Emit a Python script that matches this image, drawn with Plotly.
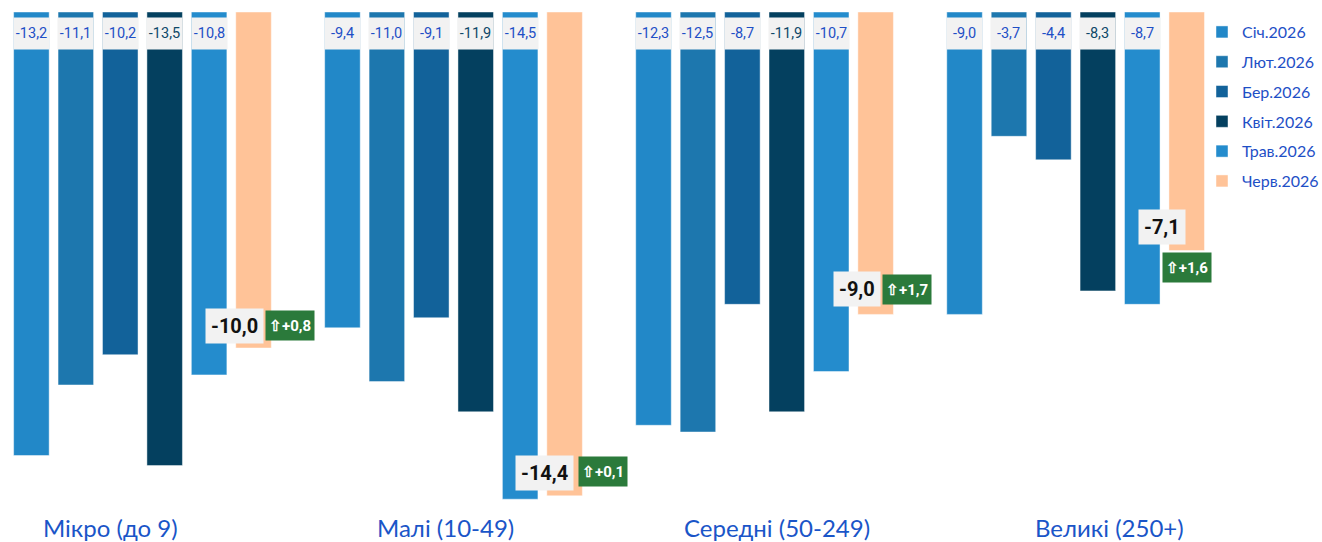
import plotly.graph_objects as go

categories = ["Мікро (до 9)", "Малі (10-49)", "Середні (50-249)", "Великі (250+)"]
series_names = ["Січ.2026", "Лют.2026", "Бер.2026", "Квіт.2026", "Трав.2026", "Черв.2026"]
sich = [-13.2, -9.4, -12.3, -9.0]
lyut = [-11.1, -11.0, -12.5, -3.7]
ber = [-10.2, -9.1, -8.7, -4.4]
kvit = [-13.5, -11.9, -11.9, -8.3]
trav = [-10.8, -14.5, -10.7, -8.7]
cherv = [-10.0, -14.4, -9.0, -7.1]
series_values = [sich, lyut, ber, kvit, trav, cherv]

colors = ["#2288C8", "#1D77AE", "#12629A", "#04405F", "#248CCD", "#FFC398"]
label_colors = ["#1E4FC6", "#1E4FC6", "#1E4FC6", "#0E4868", "#1E4FC6", "#000000"]

# style: per-group shifts (px) of the last-month value box and change box
val_dx = [-19, -20, -19, -25]
val_dy = [22, 23, 25, 24]
chg_dx = [36, 38, 31, 0]
chg_dy = [23, 24, 25, -17]
label_pos = [0.0917, 0.368, 0.642, 0.917]

NARROW = "Roboto, Liberation Sans Narrow, sans-serif"
HUMAN = "Lato, Open Sans, sans-serif"

BARGAP = 0.143
GROUPGAP = 0.2
n = len(series_names)

fig = go.Figure()
for j, (name, vals) in enumerate(zip(series_names, series_values)):
    fig.add_trace(go.Bar(
        x=list(range(len(categories))), y=vals, name=name,
        marker=dict(color=colors[j], line=dict(color="rgba(255,255,255,0.45)", width=1)),
        legendgroup=name, hoverinfo="y",
    ))

def fmt(v, sign=False):
    s = f"{v:+.1f}" if sign else f"{v:.1f}"
    return s.replace(".", ",")

slot = (1 - BARGAP) / n
annotations = []
for j in range(n):
    off = -(1 - BARGAP) / 2 + slot * (j + 0.5)
    for i, v in enumerate(series_values[j]):
        x = i + off
        if j < n - 1:
            annotations.append(dict(
                x=x, y=0, xref="x", yref="y", text=fmt(v), showarrow=False,
                xanchor="center", yanchor="top", yshift=-5, width=33, height=29,
                bgcolor="#F2F2F2",
                font=dict(family=NARROW, size=14.5, color=label_colors[j]),
            ))
        else:
            delta = v - series_values[j - 1][i]
            annotations.append(dict(
                x=x, y=v, xref="x", yref="y", text="<b>" + fmt(v) + "</b>", showarrow=False,
                xanchor="center", yanchor="middle",
                xshift=val_dx[i], yshift=val_dy[i], borderpad=5, bgcolor="#F2F2F2",
                font=dict(family=NARROW, size=20, color="#111111"),
            ))
            annotations.append(dict(
                x=x, y=v, xref="x", yref="y", text="<b>⇧" + fmt(delta, True) + "</b>",
                showarrow=False, xanchor="center", yanchor="middle",
                xshift=chg_dx[i], yshift=chg_dy[i], width=46, height=27, bgcolor="#2B7A3B",
                font=dict(family=NARROW, size=15, color="#FFFFFF"),
            ))

for c, px in zip(categories, label_pos):
    annotations.append(dict(
        x=px, y=-0.022, xref="paper", yref="paper", text=c, showarrow=False,
        xanchor="center", yanchor="middle",
        font=dict(family=HUMAN, size=24, color="#1A55C8"),
    ))

fig.update_layout(
    width=1322, height=542,
    margin=dict(l=0, r=112, t=12, b=26, autoexpand=False),
    paper_bgcolor="white", plot_bgcolor="white",
    barmode="group", bargap=BARGAP, bargroupgap=GROUPGAP,
    xaxis=dict(range=[-0.458, 3.432], showticklabels=False, showgrid=False, zeroline=False,
               showline=False, ticks=""),
    yaxis=dict(range=[-15.0, 0], showticklabels=False, showgrid=False, zeroline=False,
               showline=False),
    showlegend=True,
    legend=dict(x=0.9934, xanchor="left", xref="paper", y=0.994, yanchor="top",
                font=dict(family=HUMAN, size=16, color="#1E4FC6"),
                tracegroupgap=6, itemwidth=30, bgcolor="rgba(0,0,0,0)"),
    annotations=annotations,
)

fig.write_html("out.html", post_script="document.body.style.margin='0';",
               config={"displayModeBar": False})
